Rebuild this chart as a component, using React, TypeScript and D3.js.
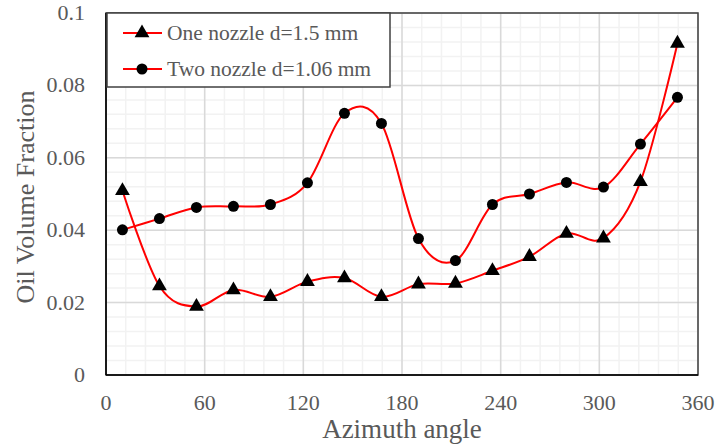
import * as d3 from 'd3';

// Azimuth angles (deg) of the sampled points
const angles = [10, 32.5, 55, 77.5, 100, 122.5, 145, 167.5, 190, 212.5, 235, 257.5, 280, 302.5, 325, 347.5];
// One nozzle d=1.5 mm
const oneNozzle = [0.0509, 0.0246, 0.0189, 0.0235, 0.0216, 0.0258, 0.0268, 0.0216, 0.0251, 0.0253, 0.0288, 0.0327, 0.0391, 0.0378, 0.0534, 0.0916];
// Two nozzle d=1.06 mm
const twoNozzle = [0.0401, 0.0432, 0.0463, 0.0466, 0.0471, 0.0531, 0.0723, 0.0695, 0.0377, 0.0316, 0.0471, 0.05, 0.0532, 0.0519, 0.0638, 0.0767];

const xTicks = [0, 60, 120, 180, 240, 300, 360];
const yTicks = [0, 0.02, 0.04, 0.06, 0.08, 0.1];
const seriesNames = ['One nozzle d=1.5 mm', 'Two nozzle d=1.06 mm'];

const W = 717;
const H = 447;
const left = 106;
const right = 698;
const top = 13;
const bottom = 375;
const font = '"Liberation Serif", "Times New Roman", serif';
const textColor = '#595959';

const x = d3.scaleLinear().domain([0, 360]).range([left, right]);
const y = d3.scaleLinear().domain([0, 0.1]).range([bottom, top]);

const line = d3
  .line<number>()
  .x((_, i) => x(angles[i]))
  .y((d) => y(d))
  .curve(d3.curveCatmullRom.alpha(0));

const tri = d3.symbol().type(d3.symbolTriangle).size(95)() as string;

const App = () => {
  const minorX = d3.range(0, 361, 12);
  const minorY = d3.range(0, 0.1001, 0.004);

  return (
    <svg width={W} height={H} style={{ position: 'absolute', left: 0, top: 0 }}>
      <rect x={0} y={0} width={W} height={H} fill="white" />

      {/* minor grid */}
      {minorX.map((v) => (
        <line key={'mx' + v} x1={x(v)} x2={x(v)} y1={top} y2={bottom} stroke="#f2f2f2" strokeWidth={1.5} />
      ))}
      {minorY.map((v) => (
        <line key={'my' + v} x1={left} x2={right} y1={y(v)} y2={y(v)} stroke="#f2f2f2" strokeWidth={1.5} />
      ))}
      {/* major grid */}
      {xTicks.map((v) => (
        <line key={'gx' + v} x1={x(v)} x2={x(v)} y1={top} y2={bottom} stroke="#d9d9d9" strokeWidth={1.5} />
      ))}
      {yTicks.map((v) => (
        <line key={'gy' + v} x1={left} x2={right} y1={y(v)} y2={y(v)} stroke="#d9d9d9" strokeWidth={1.5} />
      ))}

      {/* plot border */}
      <rect x={left} y={top} width={right - left} height={bottom - top} fill="none" stroke="#404040" strokeWidth={1.5} />
      <line x1={left} x2={left} y1={top} y2={bottom} stroke="black" strokeWidth={1.5} />
      <line x1={left} x2={right} y1={bottom} y2={bottom} stroke="black" strokeWidth={1.5} />

      {/* series lines */}
      <path d={line(oneNozzle) ?? ''} fill="none" stroke="#ff0000" strokeWidth={2} />
      <path d={line(twoNozzle) ?? ''} fill="none" stroke="#ff0000" strokeWidth={2} />

      {oneNozzle.map((v, i) => (
        <path key={'t' + i} d={tri} transform={`translate(${x(angles[i])},${y(v)})`} fill="black" />
      ))}
      {twoNozzle.map((v, i) => (
        <circle key={'c' + i} cx={x(angles[i])} cy={y(v)} r={5.5} fill="black" />
      ))}

      {/* tick labels */}
      {xTicks.map((v) => (
        <text key={'xt' + v} x={x(v)} y={bottom + 35} textAnchor="middle" fontFamily={font} fontSize={22} fill={textColor}>
          {v}
        </text>
      ))}
      {yTicks.map((v) => (
        <text key={'yt' + v} x={left - 21} y={y(v) + 7} textAnchor="end" fontFamily={font} fontSize={22} fill={textColor}>
          {v}
        </text>
      ))}

      {/* axis titles */}
      <text x={402} y={438} textAnchor="middle" fontFamily={font} fontSize={27} fill={textColor}>
        Azimuth angle
      </text>
      <text
        transform={`translate(34,${(top + bottom) / 2 + 3}) rotate(-90)`}
        textAnchor="middle"
        fontFamily={font}
        fontSize={26}
        fill={textColor}
      >
        Oil Volume Fraction
      </text>

      {/* legend */}
      <g>
        <rect x={107} y={13} width={283} height={74} fill="white" stroke="#404040" strokeWidth={1.5} />
        {seriesNames.map((name, i) => {
          const ly = 33 + i * 36;
          return (
            <g key={name}>
              <line x1={123} x2={162} y1={ly} y2={ly} stroke="#ff0000" strokeWidth={2} />
              {i === 0 ? (
                <path d={tri} transform={`translate(142,${ly})`} fill="black" />
              ) : (
                <circle cx={142} cy={ly} r={5.5} fill="black" />
              )}
              <text x={167} y={ly + 7} fontFamily={font} fontSize={21.5} fill={textColor}>
                {name}
              </text>
            </g>
          );
        })}
      </g>
    </svg>
  );
};

export default App;
